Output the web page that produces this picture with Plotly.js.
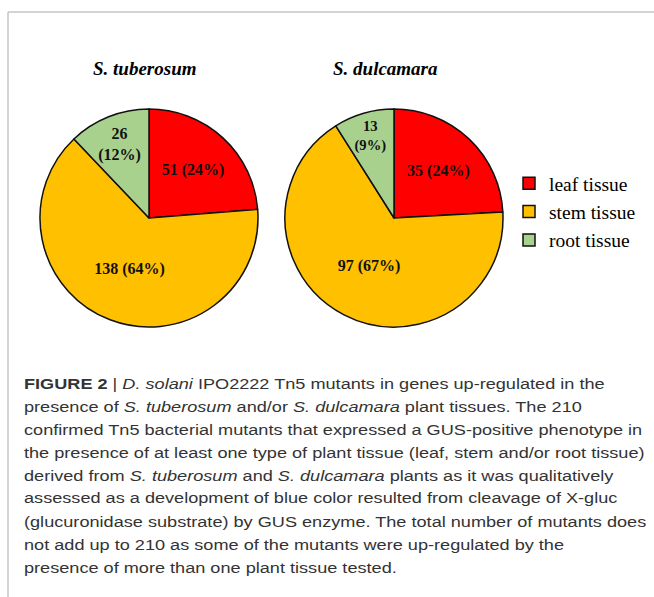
<!DOCTYPE html>
<html>
<head>
<meta charset="utf-8">
<script src="https://cdn.plot.ly/plotly-3.0.1.min.js"></script>
<style>html,body{margin:0;padding:0;background:#fff;}#chart{width:654px;height:597px;}</style>
</head>
<body>
<div id="chart"></div>
<script>
const tissues = ["leaf tissue", "stem tissue", "root tissue"];
const tuberosumValues = [51, 138, 26];
const dulcamaraValues = [35, 97, 13];
const plantTitles = ["<i>S. tuberosum</i>", "<i>S. dulcamara</i>"];
const sliceColors = ["#FF0000", "#FFC000", "#A9D18E"];
const captionLines = [
  "<b>FIGURE 2</b> | <i>D. solani</i> IPO2222 Tn5 mutants in genes up-regulated in the",
  "presence of <i>S. tuberosum</i> and/or <i>S. dulcamara</i> plant tissues. The 210",
  "confirmed Tn5 bacterial mutants that expressed a GUS-positive phenotype in",
  "the presence of at least one type of plant tissue (leaf, stem and/or root tissue)",
  "derived from <i>S. tuberosum</i> and <i>S. dulcamara</i> plants as it was qualitatively",
  "assessed as a development of blue color resulted from cleavage of X-gluc",
  "(glucuronidase substrate) by GUS enzyme. The total number of mutants does",
  "not add up to 210 as some of the mutants were up-regulated by the",
  "presence of more than one plant tissue tested."
];

const W = 654, H = 597;
const px = v => v / W;
const py = v => 1 - v / H;

const textTpl = ["%{value} (%{percent:.0%})", "%{value} (%{percent:.0%})", "%{value}<br>(%{percent:.0%})"];
const serif = "Liberation Serif, Times New Roman, serif";
const pieFont = {family: serif, size: 16, color: "#111", weight: "bold"};

function pieTrace(values, cx, cy, r, showlegend) {
  return {
    type: "pie",
    labels: tissues,
    values: values,
    sort: false,
    direction: "clockwise",
    rotation: 0,
    marker: {colors: sliceColors, line: {color: "#111", width: 1.5}},
    texttemplate: textTpl,
    textinfo: "text",
    textposition: "inside",
    insidetextorientation: "horizontal",
    textfont: pieFont,
    hoverinfo: "label+value+percent",
    showlegend: showlegend,
    domain: {x: [px(cx - r), px(cx + r)], y: [py(cy + r), py(cy - r)]}
  };
}

const data = [
  pieTrace(tuberosumValues, 149, 218, 109, true),
  pieTrace(dulcamaraValues, 394, 218, 109, false)
];

const annotations = [
  {text: "<b>" + plantTitles[0] + "</b>", x: px(144), y: py(69), xref: "paper", yref: "paper", xanchor: "center", yanchor: "middle", showarrow: false,
   font: {family: serif, size: 19, color: "#000"}},
  {text: "<b>" + plantTitles[1] + "</b>", x: px(385), y: py(69), xref: "paper", yref: "paper", xanchor: "center", yanchor: "middle", showarrow: false,
   font: {family: serif, size: 19, color: "#000"}}
];
const baseline0 = 388, lineStep = 23;
captionLines.forEach((t, i) => {
  annotations.push({text: t, x: px(22), y: py(baseline0 + i * lineStep - 5), xref: "paper", yref: "paper",
    xanchor: "left", yanchor: "middle", showarrow: false, align: "left",
    font: {family: "Liberation Sans, Arial, sans-serif", size: 15, color: "#333"}});
});

const layout = {
  width: W, height: H,
  margin: {l: 0, r: 0, t: 0, b: 0},
  paper_bgcolor: "#fff",
  showlegend: true,
  legend: {x: px(509), y: py(212), xanchor: "left", yanchor: "middle", bgcolor: "rgba(0,0,0,0)",
    font: {family: serif, size: 19.5, color: "#000"}, itemwidth: 30, traceorder: "normal"},
  annotations: annotations,
  shapes: [
    {type: "line", xref: "paper", yref: "paper", x0: px(8), x1: 1, y0: py(12), y1: py(12), line: {color: "#c4c4c4", width: 1.5}},
    {type: "line", xref: "paper", yref: "paper", x0: px(8), x1: px(8), y0: py(12), y1: 0, line: {color: "#c4c4c4", width: 1.5}}
  ]
};

Plotly.newPlot("chart", data, layout, {displayModeBar: false, staticPlot: true}).then(gd => {
  // the caption typeface in the reference is wider than Arial: stretch caption lines horizontally
  const groups = gd.querySelectorAll("g.annotation");
  groups.forEach((g, i) => {
    if (i < 2) return;
    const t = g.querySelector("text.annotation-text");
    if (t) {
      t.style.transformBox = "fill-box";
      t.style.transformOrigin = "left center";
      t.style.transform = "scaleX(1.21)";
    }
  });
});
</script>
</body>
</html>
